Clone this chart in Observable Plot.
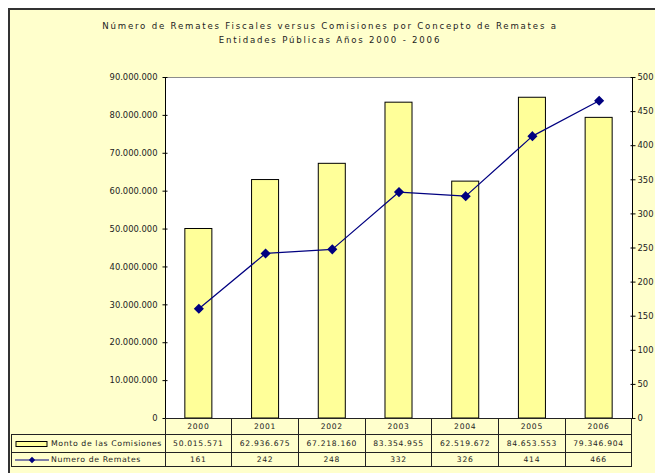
<!DOCTYPE html>
<html>
<head>
<meta charset="utf-8">
<script src="https://cdn.jsdelivr.net/npm/d3@7"></script>
<script src="https://cdn.jsdelivr.net/npm/@observablehq/plot@0.6"></script>
<style>
  body { margin: 0; background: #fff; }
  #wrap { position: relative; width: 655px; height: 473px; overflow: hidden; background: #fff; font-family: "DejaVu Sans", sans-serif; color: #222; }
  #area { position: absolute; left: 8px; top: 8px; width: 700px; height: 500px; background: #FFFFCC; border-top: 2px solid #333; border-left: 2px solid #333; box-sizing: border-box; }
  #title { position: absolute; left: 0; top: 19px; width: 660px; text-align: center; font-size: 8.6px; letter-spacing: 1.8px; line-height: 14px; color: #222; }
  .layer { position: absolute; left: 0; top: 0; }
  #tbl { position: absolute; left: 11px; top: 418px; border-collapse: collapse; font-size: 7.6px; letter-spacing: 0.7px; color: #222; }
  #tbl td { border: 1px solid #222; padding: 0; text-align: center; white-space: nowrap; }
  #tbl td.blank { border: none; border-bottom: 1px solid #222; }
  #tbl td.leg { text-align: left; letter-spacing: 0.6px; font-size: 7.8px; }
</style>
</head>
<body>
<div id="wrap">
  <div id="area"></div>
  <div id="title">Número de Remates Fiscales versus Comisiones por Concepto de Remates a<br>Entidades Públicas Años 2000 - 2006</div>
  <div id="p1" class="layer"></div>
  <div id="p2" class="layer"></div>
  <table id="tbl"></table>
</div>
<script>
const years = ["2000", "2001", "2002", "2003", "2004", "2005", "2006"];
const montoComisiones = [50015571, 62936675, 67218160, 83354955, 62519672, 84653553, 79346904];
const numeroRemates = [161, 242, 248, 332, 326, 414, 466];
const leftTicks = [0, 10000000, 20000000, 30000000, 40000000, 50000000, 60000000, 70000000, 80000000, 90000000];
const rightTicks = [0, 50, 100, 150, 200, 250, 300, 350, 400, 450, 500];
const seriesNames = ["Monto de las Comisiones", "Numero de Remates"];

const fmt = v => d3.format(",")(v).replace(/,/g, ".");
const data = years.map((y, i) => ({year: y, monto: montoComisiones[i], n: numeroRemates[i]}));

const W = 655, H = 473;
const margins = {marginLeft: 165, marginRight: 23, marginTop: 77, marginBottom: 55};
const xOpts = {domain: years, paddingInner: 0.595, paddingOuter: 0.2975, round: false, axis: null};

const p1 = Plot.plot({
  width: W, height: H, ...margins,
  style: {background: "transparent", fontFamily: "DejaVu Sans, sans-serif", overflow: "visible"},
  x: xOpts,
  y: {domain: [0, 90000000], label: null, axis: null},
  marks: [
    Plot.frame({fill: "#fff", stroke: "#8c8c8c"}),
    Plot.barY(data, {x: "year", y: "monto", fill: "#FFFF99", stroke: "#000", strokeWidth: 1}),
    Plot.axisY({anchor: "left", ticks: leftTicks, tickSize: 5, dx: 2.5, tickFormat: () => "", stroke: "#000", label: null}),
    Plot.axisY({anchor: "left", ticks: leftTicks, tickSize: 0, tickPadding: 8, tickFormat: fmt, label: null, fontSize: 8.4, fill: "#222", style: "letter-spacing:0.45px"}),
    Plot.frame({anchor: "left", stroke: "#000"}),
    Plot.ruleY([0], {stroke: "#000"})
  ]
});
document.getElementById("p1").appendChild(p1);

const p2 = Plot.plot({
  width: W, height: H, ...margins,
  style: {background: "transparent", fontFamily: "DejaVu Sans, sans-serif", overflow: "visible"},
  x: xOpts,
  y: {domain: [0, 500], label: null, axis: null},
  marks: [
    Plot.axisY({anchor: "right", ticks: rightTicks, tickSize: 5, dx: -2.5, tickFormat: () => "", stroke: "#000", label: null}),
    Plot.axisY({anchor: "right", ticks: rightTicks, tickSize: 0, tickPadding: 5, tickFormat: d => String(d), label: null, fontSize: 8.4, fill: "#222", style: "letter-spacing:0.45px"}),
    Plot.frame({anchor: "right", stroke: "#000"}),
    Plot.line(data, {x: "year", y: "n", stroke: "#000080", strokeWidth: 1.2}),
    Plot.dot(data, {x: "year", y: "n", symbol: "diamond2", r: 3.6, fill: "#000080", stroke: "#000080"})
  ]
});
document.getElementById("p2").appendChild(p2);

// data table below the chart
const colW = (632 - 165) / years.length;
const tbl = d3.select("#tbl");
const r0 = tbl.append("tr").style("height", "16px");
r0.append("td").attr("class", "blank").style("width", "153px");
years.forEach(y => r0.append("td").style("width", colW - 1 + "px").text(y));

const barSwatch = `<svg width="34" height="8" style="vertical-align:middle;margin:0 2px 0 3px"><rect x="1" y="1.5" width="31" height="5" fill="#FFFF99" stroke="#000" stroke-width="1"/></svg>`;
const lineSwatch = `<svg width="34" height="8" style="vertical-align:middle;margin:0 2px 0 3px"><line x1="0" x2="34" y1="4" y2="4" stroke="#000080" stroke-width="1.2"/><path d="M17,0.8L20.2,4L17,7.2L13.8,4Z" fill="#000080"/></svg>`;

const r1 = tbl.append("tr").style("height", "18px");
r1.append("td").attr("class", "leg").html(barSwatch + seriesNames[0]);
montoComisiones.forEach(v => r1.append("td").text(fmt(v)));
const r2 = tbl.append("tr").style("height", "14px");
r2.append("td").attr("class", "leg").html(lineSwatch + seriesNames[1]);
numeroRemates.forEach(v => r2.append("td").text(v));
</script>
</body>
</html>
